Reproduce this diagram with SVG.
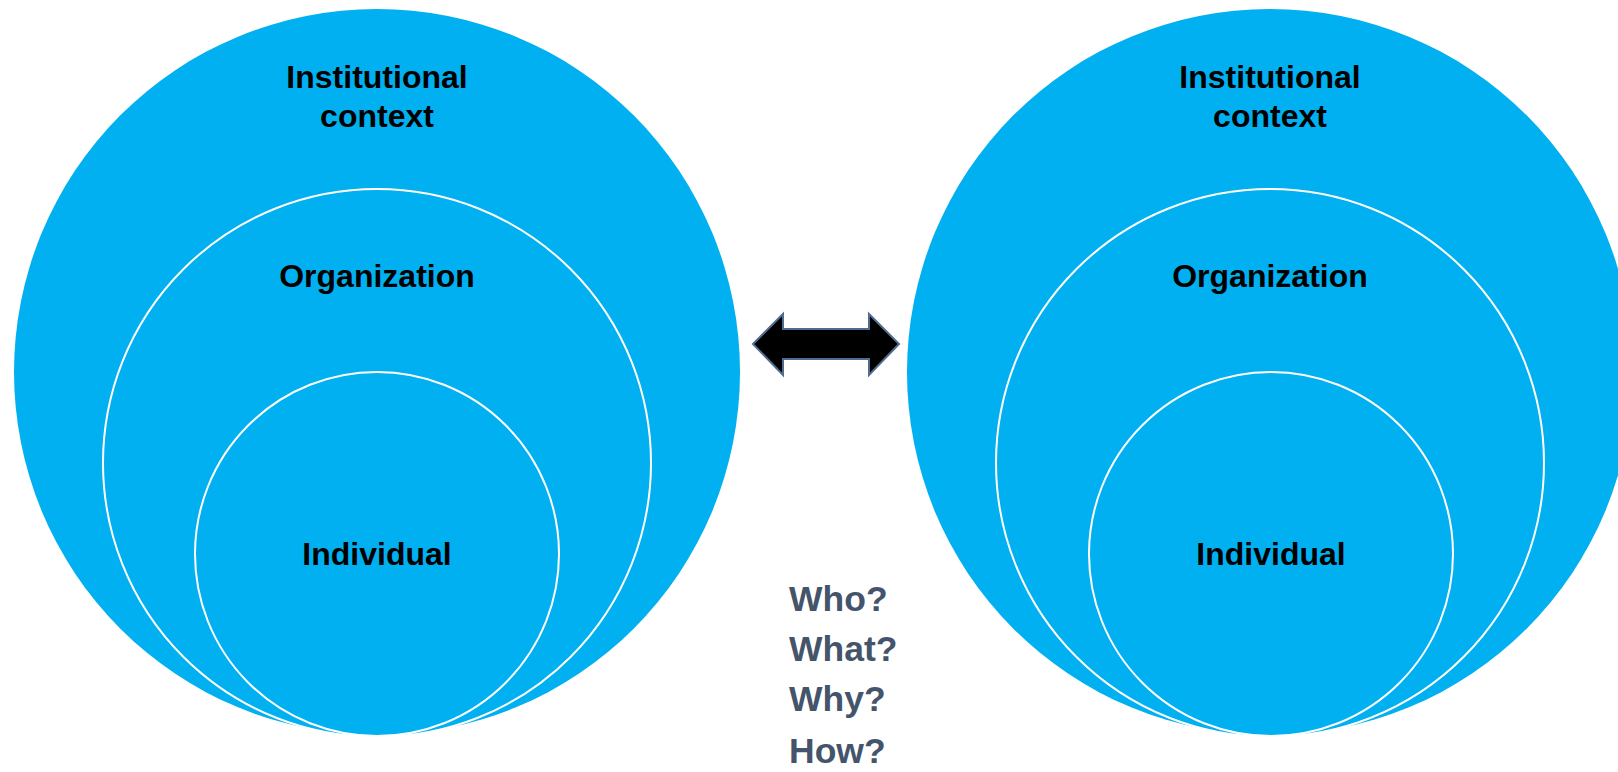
<svg xmlns="http://www.w3.org/2000/svg" width="1618" height="772" viewBox="0 0 1618 772">
  <style>
    .outer { fill: #00B0F0; stroke: none; }
    .ring { fill: #00B0F0; stroke: #FFFFFF; stroke-width: 2; }
    .lbl { font-family: "Liberation Sans", Arial, sans-serif; font-weight: bold; font-size: 32px; fill: #000000; text-anchor: middle; }
    .q { font-family: "Liberation Sans", Arial, sans-serif; font-weight: bold; font-size: 35.5px; fill: #44546A; }
    .arrow { fill: #000000; stroke: #4F6D8F; stroke-width: 2; stroke-linejoin: miter; }
  </style>
  <rect width="1618" height="772" fill="#FFFFFF"/>

  <g id="left-institutional">
    <circle class="outer" cx="377" cy="372" r="363"/>
  </g>
  <g id="left-organization">
    <circle class="ring" cx="377" cy="463" r="274"/>
  </g>
  <g id="left-individual">
    <circle class="ring" cx="377" cy="554" r="182"/>
  </g>
  <g id="left-labels">
    <text class="lbl" x="377" y="88">Institutional</text>
    <text class="lbl" x="377" y="127">context</text>
    <text class="lbl" x="377" y="287">Organization</text>
    <text class="lbl" x="377" y="565">Individual</text>
  </g>

  <g id="right-institutional">
    <circle class="outer" cx="1270" cy="372" r="363"/>
  </g>
  <g id="right-organization">
    <circle class="ring" cx="1270" cy="463" r="274"/>
  </g>
  <g id="right-individual">
    <circle class="ring" cx="1271" cy="554" r="182"/>
  </g>
  <g id="right-labels">
    <text class="lbl" x="1270" y="88">Institutional</text>
    <text class="lbl" x="1270" y="127">context</text>
    <text class="lbl" x="1270" y="287">Organization</text>
    <text class="lbl" x="1271" y="565">Individual</text>
  </g>

  <g id="connectors">
    <polygon class="arrow" points="753,344 783,314 783,329 869,329 869,314 899,344 869,375 869,359 783,359 783,375"/>
  </g>

  <g id="questions">
    <text class="q" x="789" y="611">Who?</text>
    <text class="q" x="789" y="661">What?</text>
    <text class="q" x="789" y="711">Why?</text>
    <text class="q" x="789" y="763">How?</text>
  </g>
</svg>
